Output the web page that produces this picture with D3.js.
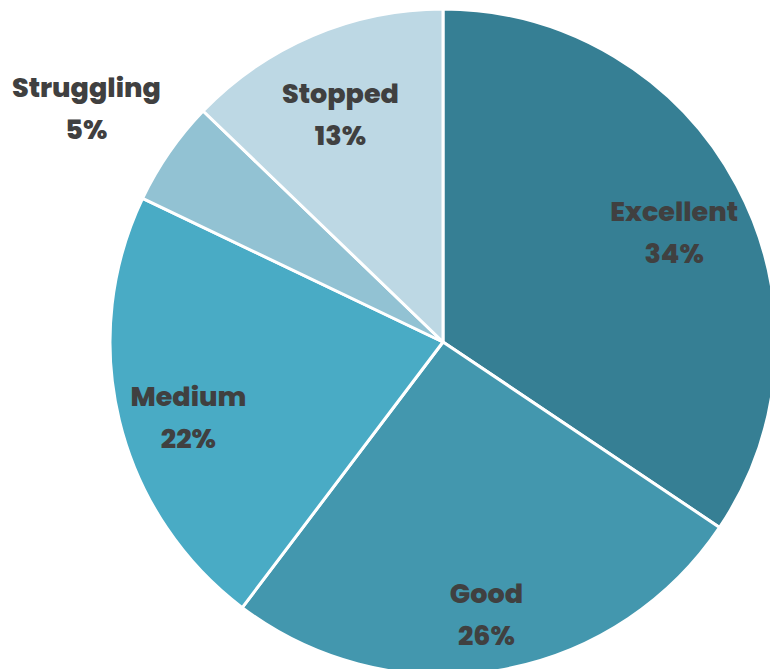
<!DOCTYPE html>
<html>
<head>
<meta charset="utf-8">
<script src="https://cdn.jsdelivr.net/npm/d3@7"></script>
<style>
  html, body { margin: 0; padding: 0; background: #fff; overflow: hidden; }
  svg { display: block; }
</style>
</head>
<body>
<script>
// data
const categories = ["Excellent", "Good", "Medium", "Struggling", "Stopped"];
const values = [34.4, 25.9, 21.8, 5.1, 12.8];
const colors = ["#367f94", "#4397ae", "#49abc5", "#92c2d3", "#bdd8e4"];

const width = 770;
const height = 669;
const cx = 443;
const cy = 342;
const radius = 333;

const svg = d3.select("body")
    .append("svg")
    .attr("width", width)
    .attr("height", height);

const g = svg.append("g")
    .attr("transform", "translate(" + cx + "," + cy + ")");

const pie = d3.pie()
    .sort(null)
    .value((d) => d.value);

const data = categories.map((c, i) => ({ name: c, value: values[i], color: colors[i] }));
const arcs = pie(data);
const total = d3.sum(values);

const arc = d3.arc()
    .innerRadius(0)
    .outerRadius(radius);

g.selectAll("path")
    .data(arcs)
    .enter()
    .append("path")
    .attr("d", arc)
    .attr("fill", (d) => d.data.color)
    .attr("stroke", "#fff")
    .attr("stroke-width", 3)
    .attr("stroke-linejoin", "round");

// ラベル (小さい扇形は外側)
const inner = d3.arc().innerRadius(262).outerRadius(262);
const outer = d3.arc().innerRadius(434).outerRadius(434);

const labels = g.selectAll("g.label")
    .data(arcs)
    .enter()
    .append("g")
    .attr("class", "label")
    .attr("transform", (d) => {
        const small = d.data.value / total < 0.1;
        const p = (small ? outer : inner).centroid(d);
        return "translate(" + p[0] + "," + (p[1] + 14) + ")";
    });

function addLine(sel, y, fn) {
    sel.append("text")
        .attr("text-anchor", "middle")
        .attr("y", y)
        .attr("dy", "0.35em")
        .style("font-family", "Poppins, Inter, sans-serif")
        .style("font-weight", 800)
        .style("font-size", "27px")
        .style("fill", "#404040")
        .text(fn);
}

addLine(labels, -21, (d) => d.data.name);
addLine(labels, 21, (d) => Math.round(d.data.value) + "%");
</script>
</body>
</html>
